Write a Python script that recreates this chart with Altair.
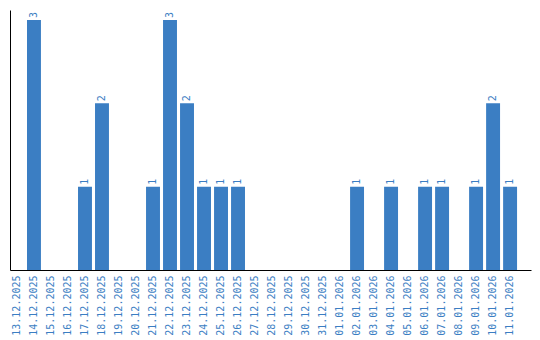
import altair as alt
import pandas as pd

dates = ["13.12.2025", "14.12.2025", "15.12.2025", "16.12.2025", "17.12.2025",
         "18.12.2025", "19.12.2025", "20.12.2025", "21.12.2025", "22.12.2025",
         "23.12.2025", "24.12.2025", "25.12.2025", "26.12.2025", "27.12.2025",
         "28.12.2025", "29.12.2025", "30.12.2025", "31.12.2025", "01.01.2026",
         "02.01.2026", "03.01.2026", "04.01.2026", "05.01.2026", "06.01.2026",
         "07.01.2026", "08.01.2026", "09.01.2026", "10.01.2026", "11.01.2026"]
counts = [0, 3, 0, 0, 1, 2, 0, 0, 1, 3, 2, 1, 1, 1, 0,
          0, 0, 0, 0, 0, 1, 0, 1, 0, 1, 1, 0, 1, 2, 1]

df = pd.DataFrame({"date": dates, "count": counts})
BLUE = "#3b7ec3"
FONT = "DejaVu Sans Mono"

x = alt.X("date:N", sort=dates,
          scale=alt.Scale(paddingInner=0.18, paddingOuter=0.41, align=0),
          axis=alt.Axis(title=None, labelAngle=-90, ticks=False, labelPadding=5,
                        labelColor=BLUE, labelFont=FONT, labelFontSize=10,
                        domainColor="black", domainWidth=1))
y = alt.Y("count:Q", scale=alt.Scale(domain=[0, 3.12], nice=False),
          axis=alt.Axis(title=None, labels=False, ticks=False, grid=False,
                        domainColor="black", domainWidth=1))

bars = alt.Chart(df).mark_bar(color=BLUE).encode(x=x, y=y)
text = alt.Chart(df).transform_filter("datum.count > 0").mark_text(
    angle=270, align="left", baseline="middle", dx=2, color=BLUE,
    font=FONT, fontSize=10).encode(x=x, y=y, text="count:Q")

chart = (bars + text).properties(
    width=521, height=260,
    autosize=alt.AutoSizeParams(type="none"),
    padding={"left": 10, "top": 10, "right": 9, "bottom": 70},
).configure_view(stroke=None)

chart.save("out.html", embed_options={"renderer": "svg", "actions": False})
